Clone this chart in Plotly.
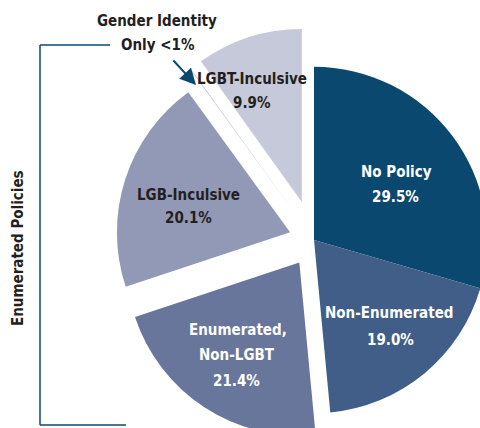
import plotly.graph_objects as go

# ---- data ----
labels = ["No Policy", "Non-Enumerated", "Enumerated, Non-LGBT", "LGB-Inculsive",
          "Gender Identity Only", "LGBT-Inculsive"]
values = [29.5, 19.0, 21.4, 20.1, 0.1, 9.9]
value_text = ["29.5%", "19.0%", "21.4%", "20.1%", "<1%", "9.9%"]
bracket_label = "Enumerated Policies"

# ---- style ----
colors = ["#0b4870", "#405e87", "#67769a", "#9199b6", "#c5c9da", "#c5c9da"]
pulls = [0, 0, 0.155, 0.145, 0.2, 0.23]
W, H = 530, 456
FONT = "DejaVu Sans Condensed, DejaVu Sans, sans-serif"
DARK = "#231f20"
BLUE = "#0b4870"
FS = 15


def px(x, y):
    return x / W, 1 - y / H


fig = go.Figure(go.Pie(
    labels=labels, values=values, sort=False, direction="clockwise", rotation=0,
    pull=pulls, marker=dict(colors=colors, line=dict(width=0)),
    textinfo="none", hoverinfo="label+percent", showlegend=False,
    domain=dict(x=[101 / W, 527 / W], y=[1 - 453 / H, 1 - 27 / H]),
))


def text_at(x, y, t, c=DARK, angle=0):
    a, b = px(x, y)
    fig.add_annotation(x=a, y=b, xref="paper", yref="paper", showarrow=False,
                       xanchor="center", yanchor="middle", text=t, textangle=angle,
                       font=dict(family=FONT, size=FS, color=c, weight="bold"))


# slice labels
text_at(397, 172, labels[0], "white")
text_at(396, 197, value_text[0], "white")
text_at(389, 313, labels[1], "white")
text_at(390, 340, value_text[1], "white")
text_at(238, 330, "Enumerated,", "white")
text_at(237, 355, "Non-LGBT", "white")
text_at(236, 381, value_text[2], "white")
text_at(188, 195, labels[3])
text_at(188, 218, value_text[3])
text_at(252, 79, labels[5])
text_at(252, 103, value_text[5])

# gender identity callout with arrow
text_at(157, 21, "Gender Identity")
text_at(158, 45, f"Only {value_text[4]}")
hx, hy = px(196, 85)
fig.add_annotation(x=hx, y=hy, xref="paper", yref="paper", ax=-24, ay=-26,
                   text="", showarrow=True,
                   arrowhead=2, arrowsize=1.6, arrowwidth=2, arrowcolor=BLUE)

# bracket
for (x0, y0, x1, y1) in [(40, 45, 40, 425), (40, 45, 110, 45), (40, 425, 126, 425)]:
    a0, b0 = px(x0, y0)
    a1, b1 = px(x1, y1)
    fig.add_shape(type="line", xref="paper", yref="paper", x0=a0, y0=b0, x1=a1, y1=b1,
                  line=dict(color=BLUE, width=1.5))

text_at(18, 248, bracket_label, angle=-90)

fig.update_layout(width=W, height=H, autosize=False,
                  margin=dict(l=0, r=0, t=0, b=0),
                  paper_bgcolor="white", plot_bgcolor="white")

fig.write_html(
    "out.html",
    config={"displayModeBar": False},
    post_script=("document.documentElement.style.overflow='hidden';"
                 "document.body.style.overflow='hidden';"
                 "document.body.style.margin='0';"),
)
